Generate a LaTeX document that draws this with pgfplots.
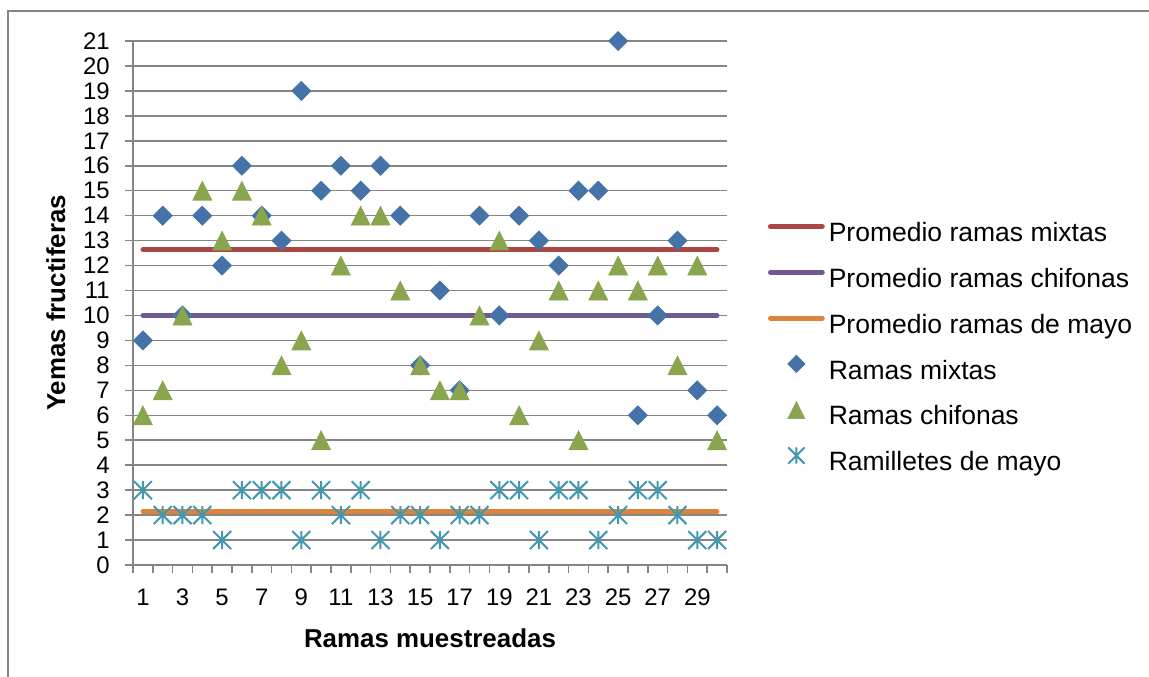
\documentclass[border=0pt]{standalone}
\usepackage{fontspec}
\setmainfont{Liberation Sans}
\usepackage{pgfplots}
\usepackage{pgfplotstable}
\pgfplotsset{compat=1.18}
\usetikzlibrary{plotmarks}

\definecolor{mixblue}{HTML}{4572A7}
\definecolor{chigreen}{HTML}{89A54E}
\definecolor{mayoaqua}{HTML}{4198AF}
\definecolor{avgred}{HTML}{AA4643}
\definecolor{avgpurple}{HTML}{71588F}
\definecolor{avgorange}{HTML}{DB843D}
\definecolor{axisgray}{HTML}{868686}

% asterisk made of a vertical bar and an X
\pgfdeclareplotmark{xstar}{%
  \pgfpathmoveto{\pgfqpoint{0pt}{\pgfplotmarksize}}%
  \pgfpathlineto{\pgfqpoint{0pt}{-\pgfplotmarksize}}%
  \pgfpathmoveto{\pgfqpoint{-\pgfplotmarksize}{\pgfplotmarksize}}%
  \pgfpathlineto{\pgfqpoint{\pgfplotmarksize}{-\pgfplotmarksize}}%
  \pgfpathmoveto{\pgfqpoint{-\pgfplotmarksize}{-\pgfplotmarksize}}%
  \pgfpathlineto{\pgfqpoint{\pgfplotmarksize}{\pgfplotmarksize}}%
  \pgfusepathqstroke}

% yemas fructiferas por rama muestreada
\pgfplotstableread{
n  mixtas chifonas mayo
1  9  6  3
2  14 7  2
3  10 10 2
4  14 15 2
5  12 13 1
6  16 15 3
7  14 14 3
8  13 8  3
9  19 9  1
10 15 5  3
11 16 12 2
12 15 14 3
13 16 14 1
14 14 11 2
15 8  8  2
16 11 7  1
17 7  7  2
18 14 10 2
19 10 13 3
20 14 6  3
21 13 9  1
22 12 11 3
23 15 5  3
24 15 11 1
25 21 12 2
26 6  11 3
27 10 12 3
28 13 8  2
29 7  12 1
30 6  5  1
}\ramas

\begin{document}
\begin{tikzpicture}
\useasboundingbox (0bp,0bp) rectangle (574.5bp,-338.5bp);
\draw[axisgray, line width=0.6bp] (4bp,-338.5bp) -- (4bp,-5.5bp) -- (574.5bp,-5.5bp);
\begin{axis}[
  at={(66.5bp,-282.5bp)}, anchor=south west,
  scale only axis, width=297bp, height=262bp,
  xmin=0.5, xmax=30.5, ymin=0, ymax=21,
  axis x line*=bottom, axis y line*=left,
  axis line style={axisgray, line width=0.75bp, -},
  xtick={1,3,...,29}, minor xtick={0.5,1.5,...,30.5},
  ytick={0,1,...,21},
  tick align=outside, major tick length=4bp, minor tick length=4bp,
  tick style={axisgray, line width=0.75bp},
  major x tick style={draw=none},
  ymajorgrids, grid style={axisgray, line width=0.75bp},
  /pgf/number format/assume math mode=true,
  ticklabel style={font=\fontsize{12}{14}\selectfont, inner sep=0pt},
  xticklabel style={anchor=base, yshift=-16bp},
  yticklabel style={anchor=east, xshift=-7.5bp},
  xlabel={Ramas muestreadas}, ylabel={Yemas fructiferas},
  label style={font=\bfseries\fontsize{13}{15}\selectfont},
  xlabel style={at={(axis description cs:0.5,-0.1565)}, anchor=base, inner sep=0pt},
  ylabel style={at={(axis description cs:-0.113,0.5)}, anchor=south, inner sep=0pt},
  legend cell align=left,
  legend style={at={(axis description cs:1.069,0.6532)}, anchor=north west,
    draw=none, fill=none, inner sep=0pt, outer sep=0pt,
    row sep=10.4bp, column sep=2bp,
    font=\fontsize{13.3}{16}\selectfont,
    nodes={inner sep=0pt, text height=9.5bp, text depth=3bp}},
  avgline/.style={line width=2.4bp, line cap=round, no markers,
    legend image code/.code={\draw[##1] (1bp,4.35bp) -- (27bp,4.35bp);}},
  markonly/.style={only marks,
    legend image code/.code={\path[draw=none, fill=none] (0bp,4.35bp) -- (28bp,4.35bp);
      \begin{pgfinterruptboundingbox}
      \path[##1, draw=none, only marks, every mark/.append style={scale=0.9}]
        plot coordinates {(14bp,4.35bp)};
      \end{pgfinterruptboundingbox}}},
]
\addplot[avgline, avgred] coordinates {(1,12.6333) (30,12.6333)};
\addlegendentry{Promedio ramas mixtas}
\addplot[avgline, avgpurple] coordinates {(1,10) (30,10)};
\addlegendentry{Promedio ramas chifonas}
\addplot[avgline, avgorange] coordinates {(1,2.1333) (30,2.1333)};
\addlegendentry{Promedio ramas de mayo}

\addplot[markonly, mark=square*, mark size=3.35bp,
  mark options={rotate=45, draw=mixblue, fill=mixblue, line width=0.4bp}]
  table[x=n, y=mixtas] {\ramas};
\addlegendentry{Ramas mixtas}
\addplot[markonly, mark=triangle*, mark size=5.5bp,
  mark options={yshift=-1.6bp, yscale=1.15, draw=chigreen, fill=chigreen, line width=0.3bp}]
  table[x=n, y=chifonas] {\ramas};
\addlegendentry{Ramas chifonas}
\addplot[markonly, mark=xstar, mark size=4.5bp,
  mark options={draw=mayoaqua, line width=1bp}]
  table[x=n, y=mayo] {\ramas};
\addlegendentry{Ramilletes de mayo}
\end{axis}
\end{tikzpicture}
\end{document}
